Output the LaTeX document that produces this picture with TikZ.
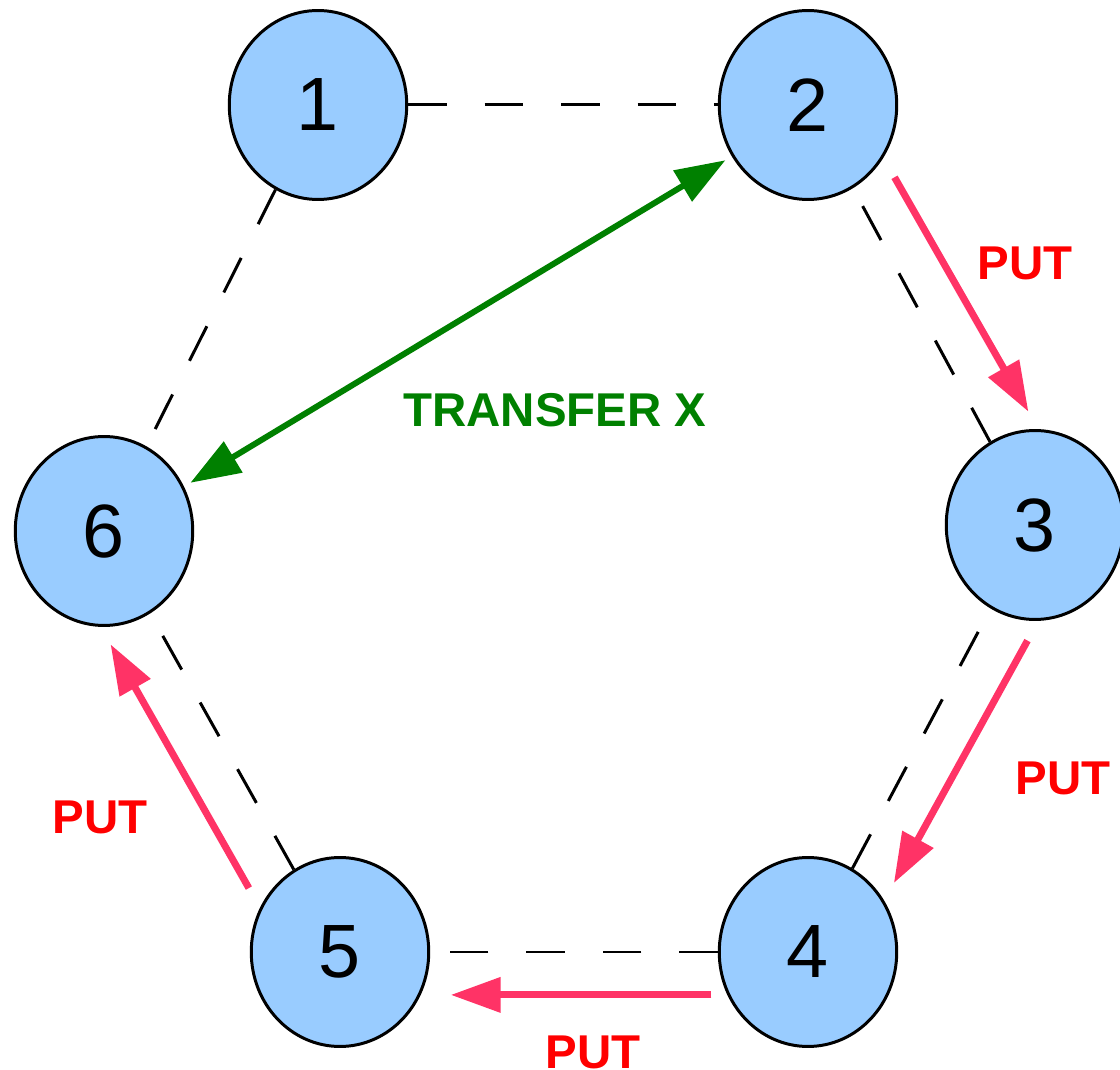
\documentclass[tikz,border=0pt]{standalone}
\usepackage{fontspec}
\setmainfont{Liberation Sans}
\usetikzlibrary{shapes.geometric,arrows.meta,positioning}
\definecolor{peerblue}{RGB}{153,204,255}
\definecolor{putpink}{RGB}{255,51,102}
\definecolor{putred}{RGB}{255,0,0}
\definecolor{xfergreen}{RGB}{0,128,0}
\tikzstyle{peer}=[draw,ellipse,fill=peerblue,line width=1.7pt,minimum
width=3.55cm,minimum height=3.78cm,inner sep=0pt,font=\fontsize{43}{50}\selectfont]
\tikzstyle{link}=[line width=1.7pt,dash pattern=on 22pt off 21.5pt]
\tikzstyle{put}=[-{Triangle[length=1cm,width=0.68cm]}, putpink, line
width=4pt, shorten <=0.45cm, shorten >=0.4cm]
\tikzstyle{xfer}=[{Triangle[length=1cm,width=0.7cm]}-{Triangle[length=1cm,width=0.7cm]},
xfergreen, line width=3.4pt, shorten <=0.15cm, shorten >=0.15cm]
\tikzstyle{lbl}=[font=\fontsize{27}{30}\selectfont\bfseries]

\begin{document}
\begin{tikzpicture}[x=0.02cm, y=-0.02cm]
  \useasboundingbox (0,0) rectangle (1120,1070);
  \node[peer] (n1) at (318,105) {1};
  \node[peer] (n2) at (808,105) {2};
  \node[peer] (n3) at (1035,525) {3};
  \node[peer] (n4) at (808,952) {4};
  \node[peer] (n5) at (340,952) {5};
  \node[peer] (n6) at (104,531) {6};

  \draw[link] (n1) -- (n2);
  \draw[link] (n3) -- (n2);
  \draw[link] (n4) -- (n3);
  \draw[link] (n4) -- (n5);
  \draw[link] (n5) -- (n6);
  \draw[link] (n1) -- (n6);

  \draw[put] (n2.-35) -- (n3.88);
  \draw[put] (n3.272) -- (n4.34);
  \draw[put, shorten <=0.32cm, shorten >=0.6cm] (n4.208) -- (n5.-28);
  \draw[put] (n5.151) -- (n6.-92);
  \draw[xfer] (n6.29) -- (n2.214);

  \node[lbl, putred]    (p23) at (1025,263) {PUT};
  \node[lbl, putred]    (p34) at (1063,778) {PUT};
  \node[lbl, putred]    (p45) at (593,1052) {PUT};
  \node[lbl, putred]    (p56) at (100,817)  {PUT};
  \node[lbl, xfergreen] (x26) at (555,410)  {TRANSFER X};
\end{tikzpicture}
\end{document}
